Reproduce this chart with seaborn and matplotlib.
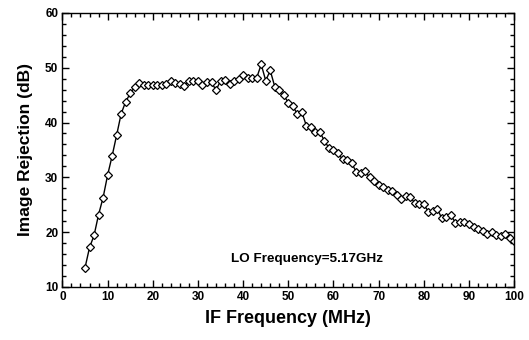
import matplotlib
matplotlib.use("Agg")
import matplotlib.pyplot as plt
import seaborn as sns
import pandas as pd
from matplotlib.ticker import MultipleLocator

freq_mhz = list(range(5, 101))
rejection_db = [
    13.5, 17.2, 19.4, 23.2, 26.3, 30.4, 33.9, 37.7, 41.6, 43.8,
    45.3, 46.5, 47.2, 46.9, 46.9, 46.9, 46.9, 46.9, 47.1, 47.5,
    47.2, 47.0, 46.7, 47.5, 47.6, 47.5, 46.9, 47.4, 47.35, 45.9,
    47.6, 47.8, 47.0, 47.6, 48.0, 48.7, 48.2, 48.15, 48.15, 50.6,
    47.65, 49.5, 46.55, 45.9, 45.0, 43.6, 43.05, 41.5, 41.9, 39.4,
    39.15, 38.3, 38.3, 36.6, 35.4, 34.9, 34.4, 33.3, 33.1, 32.7,
    31.0, 30.8, 31.1, 30.0, 29.25, 28.65, 28.2, 27.7, 27.5, 26.7,
    26.0, 26.6, 26.4, 25.3, 25.1, 25.1, 23.7, 23.9, 24.2, 22.5,
    22.7, 23.1, 21.7, 21.85, 21.9, 21.55, 20.9, 20.6, 20.3, 19.6,
    20.1, 19.5, 19.3, 19.7, 18.9, 18.45,
]
x_label = "IF Frequency (MHz)"
y_label = "Image Rejection (dB)"
annotation = "LO Frequency=5.17GHz"

df = pd.DataFrame({"freq": freq_mhz, "rej": rejection_db})

sns.set_style("ticks")
plt.rcParams["font.family"] = ["Liberation Sans", "DejaVu Sans"]
plt.rcParams["font.weight"] = "bold"
plt.rcParams["text.color"] = "black"
plt.rcParams["axes.labelcolor"] = "black"
plt.rcParams["xtick.color"] = "black"
plt.rcParams["ytick.color"] = "black"

fig = plt.figure(figsize=(5.29, 3.40), dpi=100)
ax = fig.add_axes([0.118, 0.156, 0.972 - 0.118, 0.962 - 0.156])

sns.lineplot(data=df, x="freq", y="rej", ax=ax, color="black", linewidth=1.0,
             marker="D", markersize=3.9, markerfacecolor="white",
             markeredgecolor="black", markeredgewidth=0.9)

ax.set_xlim(0, 100)
ax.set_ylim(10, 60)
ax.xaxis.set_major_locator(MultipleLocator(10))
ax.xaxis.set_minor_locator(MultipleLocator(2))
ax.yaxis.set_major_locator(MultipleLocator(10))
ax.yaxis.set_minor_locator(MultipleLocator(2))
ax.tick_params(which="both", direction="in", top=True, right=True,
               width=1.0, color="black", labelcolor="black")
ax.tick_params(which="major", length=5, labelsize=8.5, pad=3)
ax.tick_params(which="minor", length=3)
for lab in ax.get_xticklabels() + ax.get_yticklabels():
    lab.set_fontweight("bold")
for sp in ax.spines.values():
    sp.set_linewidth(1.0)
    sp.set_color("black")

ax.set_xlabel(x_label, fontsize=13, fontweight="bold", labelpad=5, color="black")
ax.set_ylabel(y_label, fontsize=12.5, fontweight="bold", labelpad=9, color="black")
ax.text(54.2, 15.1, annotation, fontsize=9.7, fontweight="bold",
        ha="center", va="center", color="black")

fig.savefig("out.png", dpi=100)
